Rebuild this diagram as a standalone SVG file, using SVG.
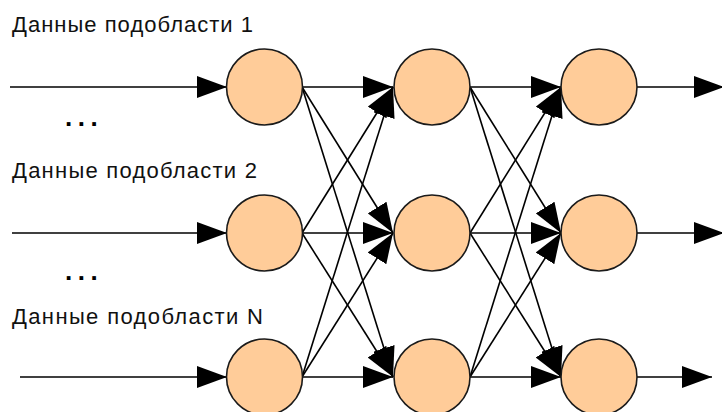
<svg xmlns="http://www.w3.org/2000/svg" width="722" height="412" viewBox="0 0 722 412">
<defs>
<marker id="ah" markerUnits="userSpaceOnUse" markerWidth="30" markerHeight="22" refX="30" refY="11" orient="auto">
<path d="M0,0 L30,11 L0,22 Z" fill="#000"/>
</marker>
<style>
.e{stroke:#000;stroke-width:1.6;fill:none;marker-end:url(#ah)}
.n{fill:#FFCC99;stroke:#1a1a1a;stroke-width:1.6}
.t{font-family:"Liberation Sans",Arial,sans-serif;font-size:22px;fill:#111}
.d{font-family:"Liberation Sans",Arial,sans-serif;font-size:26px;font-weight:bold;fill:#000;letter-spacing:5.5px}
</style>
</defs>
<rect width="722" height="412" fill="#fff"/>
<text class="t" x="12" y="32" textLength="241" lengthAdjust="spacing">Данные подобласти 1</text>
<text class="t" x="12" y="178" textLength="245" lengthAdjust="spacing">Данные подобласти 2</text>
<text class="t" x="12" y="324" textLength="251" lengthAdjust="spacing">Данные подобласти N</text>
<text class="d" x="65" y="126">...</text>
<text class="d" x="65" y="280">...</text>
<g id="connectors">
<line class="e" x1="10" y1="87" x2="227" y2="87"/>
<line class="e" x1="12" y1="233" x2="227" y2="233"/>
<line class="e" x1="20" y1="377" x2="227" y2="377"/>
<line class="e" x1="302" y1="87" x2="393" y2="87"/>
<line class="e" x1="302" y1="87" x2="393" y2="233"/>
<line class="e" x1="302" y1="87" x2="393" y2="377"/>
<line class="e" x1="302" y1="233" x2="393" y2="87"/>
<line class="e" x1="302" y1="233" x2="393" y2="233"/>
<line class="e" x1="302" y1="233" x2="393" y2="377"/>
<line class="e" x1="302" y1="377" x2="393" y2="87"/>
<line class="e" x1="302" y1="377" x2="393" y2="233"/>
<line class="e" x1="302" y1="377" x2="393" y2="377"/>
<line class="e" x1="470" y1="87" x2="561" y2="87"/>
<line class="e" x1="470" y1="87" x2="561" y2="233"/>
<line class="e" x1="470" y1="87" x2="561" y2="377"/>
<line class="e" x1="470" y1="233" x2="561" y2="87"/>
<line class="e" x1="470" y1="233" x2="561" y2="233"/>
<line class="e" x1="470" y1="233" x2="561" y2="377"/>
<line class="e" x1="470" y1="377" x2="561" y2="87"/>
<line class="e" x1="470" y1="377" x2="561" y2="233"/>
<line class="e" x1="470" y1="377" x2="561" y2="377"/>
<line class="e" x1="637" y1="87" x2="724" y2="87"/>
<line class="e" x1="637" y1="233" x2="724" y2="233"/>
<line class="e" x1="637" y1="377" x2="712" y2="377"/>
</g>
<g id="n11"><circle class="n" cx="264.5" cy="87" r="38"/></g>
<g id="n12"><circle class="n" cx="264.5" cy="233" r="38"/></g>
<g id="n13"><circle class="n" cx="264.5" cy="377" r="38"/></g>
<g id="n21"><circle class="n" cx="432" cy="87" r="38"/></g>
<g id="n22"><circle class="n" cx="432" cy="233" r="38"/></g>
<g id="n23"><circle class="n" cx="432" cy="377" r="38"/></g>
<g id="n31"><circle class="n" cx="599" cy="87" r="38"/></g>
<g id="n32"><circle class="n" cx="599" cy="233" r="38"/></g>
<g id="n33"><circle class="n" cx="599" cy="377" r="38"/></g>
</svg>
